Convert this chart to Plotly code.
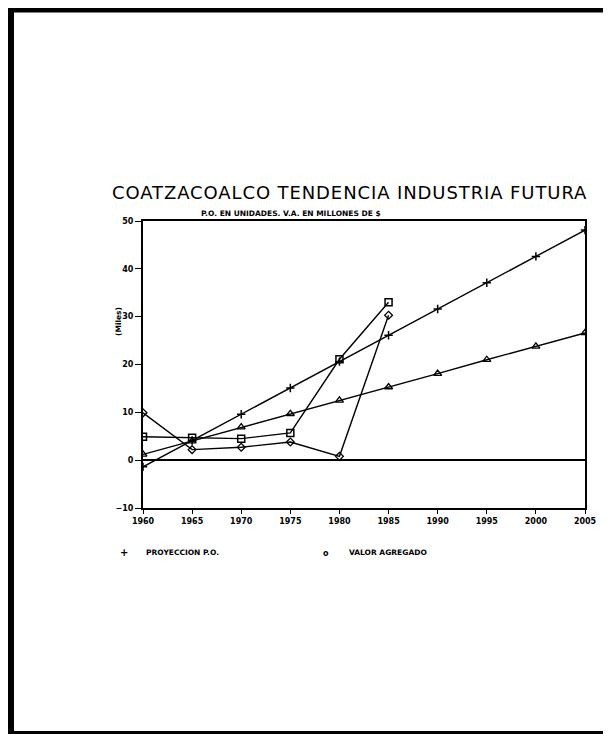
import plotly.graph_objects as go

years_proj = [1960, 1965, 1970, 1975, 1980, 1985, 1990, 1995, 2000, 2005]
proyeccion_po = [-1.4, 4.1, 9.6, 15.1, 20.6, 26.1, 31.6, 37.1, 42.6, 48.1]
proyeccion_va = [1.2, 4.0, 6.9, 9.7, 12.5, 15.3, 18.1, 21.0, 23.8, 26.6]

years_hist = [1960, 1965, 1970, 1975, 1980, 1985]
personal_ocupado = [4.9, 4.7, 4.5, 5.7, 21.1, 33.0]
valor_agregado = [9.9, 2.2, 2.7, 3.8, 0.8, 30.3]

x_ticks = [1960, 1965, 1970, 1975, 1980, 1985, 1990, 1995, 2000, 2005]
y_ticks = [-10, 0, 10, 20, 30, 40, 50]

title_text = "COATZACOALCO TENDENCIA INDUSTRIA FUTURA"
subtitle_text = "P.O. EN UNIDADES. V.A. EN MILLONES DE $"
y_title = "(Miles)"
legend_labels = ["PROYECCION P.O.", "VALOR AGREGADO"]

# page body has an 8px margin; plot area in reference pixels: x 143..585, y 221..508
OFF = 8
PL, PR, PT, PB = 143, 585, 221, 508
W, H = 611 - OFF, 734 - OFF


def px(xr):
    return (xr - PL) / (PR - PL)


def py(yr):
    return (PB - yr) / (PB - PT)


fig = go.Figure()
line = dict(color="black", width=1.4)

fig.add_trace(go.Scatter(x=years_proj, y=proyeccion_po, mode="lines+markers", line=line,
                         marker=dict(symbol="cross-thin-open", size=6, color="black",
                                     line=dict(color="black", width=1.5)),
                         name=legend_labels[0]))
fig.add_trace(go.Scatter(x=years_proj, y=proyeccion_va, mode="lines+markers", line=line,
                         marker=dict(symbol="triangle-up-open", size=7, color="black",
                                     line=dict(color="black", width=1.3)),
                         name="proy va"))
fig.add_trace(go.Scatter(x=years_hist, y=personal_ocupado, mode="lines+markers", line=line,
                         marker=dict(symbol="square-open", size=7, color="black",
                                     line=dict(color="black", width=1.5)),
                         name="p.o."))
fig.add_trace(go.Scatter(x=years_hist, y=valor_agregado, mode="lines+markers", line=line,
                         marker=dict(symbol="diamond-open", size=6, color="black",
                                     line=dict(color="black", width=1.3)),
                         name=legend_labels[1]))

tickfont = dict(family="DejaVu Sans", size=8, color="black", weight="bold")

fig.update_xaxes(range=[1960, 2005], tickvals=x_ticks, ticktext=[str(v) for v in x_ticks],
                 showgrid=False, zeroline=False, showline=True, linecolor="black", linewidth=2,
                 mirror=True, ticks="outside", ticklen=4, tickcolor="black", tickfont=tickfont)
fig.update_yaxes(range=[-10, 50], tickvals=y_ticks, showgrid=False, zeroline=True,
                 zerolinecolor="black", zerolinewidth=1.5, showline=True, linecolor="black",
                 linewidth=2, mirror=True, ticks="outside", ticklen=6, tickcolor="black",
                 tickfont=tickfont)

small = dict(family="DejaVu Sans", size=7.5, color="black", weight="bold")


def ann(text, xr, yr, font, xanchor="center", angle=0):
    return dict(text=text, x=px(xr), y=py(yr), xref="paper", yref="paper", showarrow=False,
                xanchor=xanchor, yanchor="middle", textangle=angle, font=font)


annotations = [
    ann('<span style="letter-spacing:0.9px">' + title_text + '</span>', 349, 193,
        dict(family="DejaVu Sans", size=18, color="black")),
    ann(subtitle_text, 291, 213, small),
    ann(y_title, 118, 322, small, angle=-90),
    ann("+", 124, 552, dict(family="DejaVu Sans", size=10, color="black", weight="bold")),
    ann(legend_labels[0], 144, 552, small, xanchor="left"),
    ann("o", 326, 553, dict(family="DejaVu Sans", size=8, color="black", weight="bold")),
    ann(legend_labels[1], 347, 552, small, xanchor="left"),
]


def vline(xr, y0r, y1r, w):
    return dict(type="line", xref="paper", yref="paper", x0=px(xr), x1=px(xr),
                y0=py(y0r), y1=py(y1r), line=dict(color="black", width=w))


def hline(yr, x0r, x1r, w):
    return dict(type="line", xref="paper", yref="paper", x0=px(x0r), x1=px(x1r),
                y0=py(yr), y1=py(yr), line=dict(color="black", width=w))


shapes = [
    vline(11, 7, 734, 6),
    hline(10, 8, 611, 5),
    vline(609.5, 7, 734, 3),
    hline(732.5, 8, 611, 3),
]

fig.update_layout(width=W, height=H,
                  margin=dict(l=PL - OFF, r=W - (PR - OFF), t=PT - OFF, b=H - (PB - OFF)),
                  plot_bgcolor="white", paper_bgcolor="white", showlegend=False,
                  annotations=annotations, shapes=shapes)

fig.write_html("out.html")
